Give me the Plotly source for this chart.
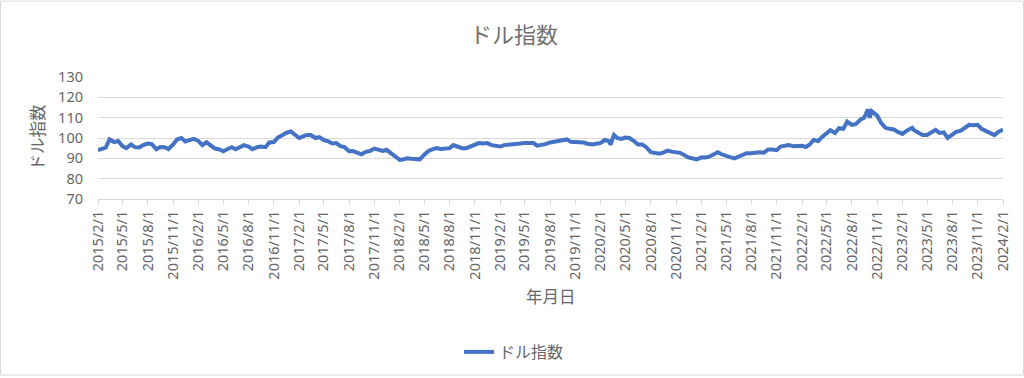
import plotly.graph_objects as go

dates = [
    "2015-02-01", "2015-02-15", "2015-03-01", "2015-03-15", "2015-04-01", "2015-04-15",
    "2015-05-01", "2015-05-15", "2015-06-01", "2015-06-15", "2015-07-01", "2015-07-15",
    "2015-08-01", "2015-08-15", "2015-09-01", "2015-09-15", "2015-10-01", "2015-10-15",
    "2015-11-01", "2015-11-15", "2015-12-01", "2015-12-15",
    "2016-01-01", "2016-01-15", "2016-02-01", "2016-02-15", "2016-03-01", "2016-03-15",
    "2016-04-01", "2016-04-15", "2016-05-01", "2016-05-15", "2016-06-01", "2016-06-15",
    "2016-07-01", "2016-07-15", "2016-08-01", "2016-08-15", "2016-09-01", "2016-09-15",
    "2016-10-01", "2016-10-15", "2016-11-01", "2016-11-15", "2016-12-01", "2016-12-15",
    "2017-01-01", "2017-01-15", "2017-02-01", "2017-02-15", "2017-03-01", "2017-03-15",
    "2017-04-01", "2017-04-15", "2017-05-01", "2017-05-15", "2017-06-01", "2017-06-15",
    "2017-07-01", "2017-07-15", "2017-08-01", "2017-08-15", "2017-09-01", "2017-09-15",
    "2017-10-01", "2017-10-15", "2017-11-01", "2017-11-15", "2017-12-01", "2017-12-15",
    "2018-01-01", "2018-01-15", "2018-02-01", "2018-02-15", "2018-03-01", "2018-03-15",
    "2018-04-01", "2018-04-15", "2018-05-01", "2018-05-15", "2018-06-01", "2018-06-15",
    "2018-07-01", "2018-07-15", "2018-08-01", "2018-08-15", "2018-09-01", "2018-09-15",
    "2018-10-01", "2018-10-15", "2018-11-01", "2018-11-15", "2018-12-01", "2018-12-15",
    "2019-01-01", "2019-01-15", "2019-02-01", "2019-02-15", "2019-03-01", "2019-03-15",
    "2019-04-01", "2019-04-15", "2019-05-01", "2019-05-15", "2019-06-01", "2019-06-15",
    "2019-07-01", "2019-07-15", "2019-08-01", "2019-08-15", "2019-09-01", "2019-09-15",
    "2019-10-01", "2019-10-15", "2019-11-01", "2019-11-15", "2019-12-01", "2019-12-15",
    "2020-01-01", "2020-01-15", "2020-02-01", "2020-02-15", "2020-03-01", "2020-03-08",
    "2020-03-20", "2020-04-01", "2020-04-15", "2020-05-01", "2020-05-15", "2020-06-01",
    "2020-06-15", "2020-07-01", "2020-07-15", "2020-08-01", "2020-08-15", "2020-09-01",
    "2020-09-15", "2020-10-01", "2020-10-15", "2020-11-01", "2020-11-15", "2020-12-01",
    "2020-12-15",
    "2021-01-01", "2021-01-15", "2021-02-01", "2021-02-15", "2021-03-01", "2021-03-15",
    "2021-04-01", "2021-04-15", "2021-05-01", "2021-05-15", "2021-06-01", "2021-06-15",
    "2021-07-01", "2021-07-15", "2021-08-01", "2021-08-15", "2021-09-01", "2021-09-15",
    "2021-10-01", "2021-10-15", "2021-11-01", "2021-11-15", "2021-12-01", "2021-12-15",
    "2022-01-01", "2022-01-15", "2022-02-01", "2022-02-15", "2022-03-01", "2022-03-15",
    "2022-04-01", "2022-04-15", "2022-05-01", "2022-05-15", "2022-06-01", "2022-06-15",
    "2022-07-01", "2022-07-15", "2022-08-01", "2022-08-15", "2022-09-01", "2022-09-15",
    "2022-09-28", "2022-10-05", "2022-10-12", "2022-11-01", "2022-11-15", "2022-12-01",
    "2022-12-15",
    "2023-01-01", "2023-01-15", "2023-02-01", "2023-02-15", "2023-03-01", "2023-03-08",
    "2023-03-15", "2023-04-01", "2023-04-15", "2023-05-01", "2023-05-15", "2023-06-01",
    "2023-06-15", "2023-07-01", "2023-07-15", "2023-08-01", "2023-08-15", "2023-09-01",
    "2023-09-15", "2023-10-01", "2023-10-15", "2023-11-01", "2023-11-15", "2023-12-01",
    "2023-12-15",
    "2024-01-01", "2024-01-15", "2024-02-01",
]

dollar_index = [
    94.0, 94.8, 95.3, 99.3, 98.0, 98.5,
    96.0, 95.0, 96.8, 95.5, 95.3, 96.5,
    97.3, 97.0, 94.5, 95.6, 95.5, 94.6,
    96.8, 99.3, 100.0, 98.3,
    99.3, 99.6, 98.5, 96.5, 97.9, 96.5,
    94.8, 94.5, 93.5, 94.5, 95.5, 94.5,
    95.8, 96.5, 95.8, 94.5, 95.5, 95.8,
    95.5, 97.8, 98.0, 100.2, 101.4, 102.5,
    103.2, 101.8, 100.0, 100.8, 101.5, 101.5,
    100.0, 100.4, 99.0, 98.5, 97.3, 97.5,
    96.0, 95.5, 93.5, 93.6, 92.6, 92.0,
    93.2, 93.6, 94.8, 94.0, 93.6, 94.2,
    92.6, 91.0, 89.2, 89.5, 90.0, 89.8,
    89.6, 89.5, 91.8, 93.5, 94.5, 95.0,
    94.6, 94.9, 95.0, 96.5, 95.6, 95.0,
    95.0, 95.8, 97.0, 97.5, 97.3, 97.5,
    96.5, 96.0, 95.8, 96.5, 96.8, 96.7,
    97.2, 97.3, 97.6, 97.7, 97.5, 96.2,
    96.5, 97.0, 97.8, 98.2, 98.8, 99.0,
    99.3, 98.1, 98.0, 98.1, 97.8, 97.2,
    96.8, 97.2, 97.6, 99.0, 98.5, 96.8,
    101.5, 100.0, 99.5, 100.2, 100.0, 98.5,
    96.8, 96.8, 95.5, 93.0, 92.5, 92.3,
    92.8, 93.8, 93.3, 93.0, 92.7, 91.5,
    90.5,
    89.9, 89.5, 90.5, 90.4, 90.8, 91.7,
    93.0, 92.0, 91.5, 90.6, 90.0, 90.8,
    92.0, 92.5, 92.5, 92.8, 93.0, 92.8,
    94.3, 94.3, 94.0, 95.8, 96.0, 96.5,
    96.0, 96.0, 96.2, 95.6, 96.8, 99.0,
    98.5, 100.5, 102.5, 103.8, 102.5, 104.8,
    104.5, 108.0, 106.5, 106.8, 109.0, 110.0,
    114.0, 110.0, 113.2, 111.0, 107.5, 105.0,
    104.5,
    104.2, 103.0, 102.0, 103.5, 104.5, 105.0,
    103.8, 102.5, 101.5, 101.5, 102.5, 104.0,
    102.5, 102.8, 100.0, 102.0, 103.0, 103.6,
    104.8, 106.5, 106.3, 106.5, 104.5, 103.5,
    102.3,
    101.4, 103.0, 104.2,
]

tick_labels = [
    "2015/2/1", "2015/5/1", "2015/8/1", "2015/11/1",
    "2016/2/1", "2016/5/1", "2016/8/1", "2016/11/1",
    "2017/2/1", "2017/5/1", "2017/8/1", "2017/11/1",
    "2018/2/1", "2018/5/1", "2018/8/1", "2018/11/1",
    "2019/2/1", "2019/5/1", "2019/8/1", "2019/11/1",
    "2020/2/1", "2020/5/1", "2020/8/1", "2020/11/1",
    "2021/2/1", "2021/5/1", "2021/8/1", "2021/11/1",
    "2022/2/1", "2022/5/1", "2022/8/1", "2022/11/1",
    "2023/2/1", "2023/5/1", "2023/8/1", "2023/11/1",
    "2024/2/1",
]

series_name = "ドル指数"
chart_title = "ドル指数"
x_title = "年月日"
y_title = "ドル指数"


def to_iso(label):
    y, m, d = label.split("/")
    return f"{int(y):04d}-{int(m):02d}-{int(d):02d}"


tick_vals = [to_iso(t) for t in tick_labels]

JP = "Noto Sans CJK JP"
NUM = "Noto Sans"
GREY = "#666666"
GRID = "#D9D9D9"

W, H = 1024, 378
L, R, T, B = 98, 21, 77, 178
pw, ph = W - L - R, H - T - B


def px_x(x):
    return (x - L) / pw


def px_y(y):
    return (H - B - y) / ph


fig = go.Figure()
fig.add_trace(go.Scatter(
    x=dates, y=dollar_index, mode="lines", name=series_name,
    line=dict(color="#4472C4", width=4),
))

fig.update_layout(
    width=W, height=H,
    margin=dict(l=L, r=R, t=T, b=B),
    paper_bgcolor="white", plot_bgcolor="white",
    title=dict(text=chart_title, x=0.502, xanchor="center", y=1 - 35 / H,
               yanchor="middle", font=dict(family=JP, size=22, color="#707070")),
    showlegend=True,
    legend=dict(orientation="h", x=px_x(514), xanchor="center",
                y=px_y(352), yanchor="middle",
                font=dict(family=JP, size=16, color=GREY),
                bgcolor="rgba(0,0,0,0)"),
    xaxis=dict(
        type="date", range=[tick_vals[0], tick_vals[-1]],
        tickmode="array", tickvals=tick_vals, ticktext=tick_labels,
        tickangle=-90, tickfont=dict(family=NUM, size=14.5, color=GREY),
        showgrid=False, showline=True, linecolor=GRID, linewidth=1,
        ticks="outside", ticklen=5, tickcolor=GRID, zeroline=False,
    ),
    yaxis=dict(
        range=[70, 130], dtick=10, tick0=70,
        tickfont=dict(family=NUM, size=14.5, color=GREY),
        showgrid=True, gridcolor=GRID, gridwidth=1,
        showline=False, zeroline=False, ticks="", ticklabelstandoff=14,
    ),
    annotations=[
        dict(text=x_title, xref="paper", yref="paper", x=0.5, y=px_y(298),
             xanchor="center", yanchor="middle", showarrow=False,
             font=dict(family=JP, size=16.5, color=GREY)),
        dict(text=y_title, xref="paper", yref="paper", x=px_x(37), y=px_y(138),
             xanchor="center", yanchor="middle", textangle=-90, showarrow=False,
             font=dict(family=JP, size=16.5, color=GREY)),
    ],
    shapes=[
        dict(type="rect", xref="paper", yref="paper",
             x0=px_x(0.5), x1=px_x(W - 0.5), y0=px_y(H - 0.5), y1=px_y(0.5),
             line=dict(color=GRID, width=1), fillcolor="rgba(0,0,0,0)", layer="below"),
    ],
)

fig.write_html(
    "out.html",
    config={"displayModeBar": False},
    post_script="document.body.style.margin='0';document.body.style.overflow='hidden';",
)
